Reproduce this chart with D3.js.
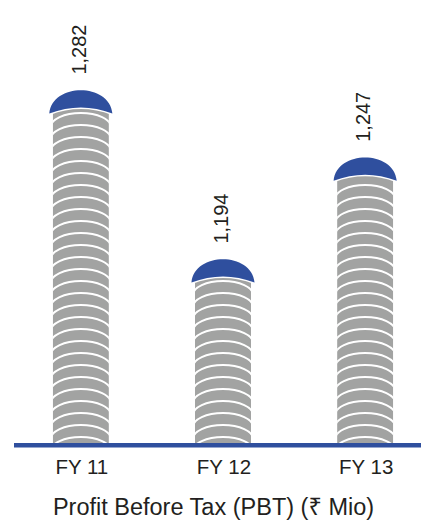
<!DOCTYPE html>
<html>
<head>
<meta charset="utf-8">
<script src="https://cdn.jsdelivr.net/npm/d3@7"></script>
<style>
  html, body { margin: 0; padding: 0; background: #fff; }
  svg { display: block; }
  text { font-family: "Liberation Sans", Arial, "Noto Sans", sans-serif; fill: #231f20; }
</style>
</head>
<body>
<svg id="chart" width="421" height="520"></svg>
<script>
// Profit before tax, ₹ million
const categories = ["FY 11", "FY 12", "FY 13"];
const values = [1282, 1194, 1247];
const valueLabels = ["1,282", "1,194", "1,247"];
const chartTitle = "Profit Before Tax (PBT) (₹ Mio)";

const W = 421, H = 520;
const baseY = 443;
const blue = "#2f4f9e";
const grey = "#a2a3a2";

const svg = d3.select("#chart");

const x = d3.scaleBand()
  .domain(categories)
  .range([18, 428])
  .paddingInner(0.556)
  .paddingOuter(0.22);

// value axis does not start at zero: the columns show differences between years
const y = d3.scaleLinear()
  .domain([1098, 1300])
  .range([baseY, 55]);

const capH = 24;       // height of the blue cap at its sides
const inset = 3.5;     // grey stack is slightly narrower than the cap
const step = 12;       // spacing of the stacked rings
const ringRy = 14;

const defs = svg.append("defs");

const bars = svg.append("g").selectAll("g.bar")
  .data(categories.map((c, i) => ({ c, v: values[i], label: valueLabels[i], i })))
  .join("g")
  .attr("class", "bar");

bars.each(function (d) {
  const g = d3.select(this);
  const x0 = x(d.c), bw = x.bandwidth(), cx = x0 + bw / 2;
  const top = y(d.v);
  const gx0 = x0 + inset, gw = bw - 2 * inset;
  const gTop = top + 16;

  // clip for the ring stack
  const clipId = "clip-" + d.i;
  defs.append("clipPath").attr("id", clipId)
    .append("rect")
    .attr("x", gx0).attr("y", gTop)
    .attr("width", gw).attr("height", baseY - gTop);

  const stack = g.append("g").attr("clip-path", `url(#${clipId})`);
  stack.append("rect")
    .attr("x", gx0).attr("y", gTop)
    .attr("width", gw).attr("height", baseY - gTop)
    .attr("fill", grey);

  // white ring edges, stacked upward from the baseline
  const rx = gw / 2 + 2;
  const apexes = d3.range(1, 60).map(k => baseY - step * k + 6).filter(a => a > gTop + 6);
  stack.selectAll("path.ring")
    .data(apexes)
    .join("path")
    .attr("class", "ring")
    .attr("d", a => `M${cx - rx},${a + ringRy} A${rx},${ringRy} 0 0 1 ${cx + rx},${a + ringRy}`)
    .attr("fill", "none")
    .attr("stroke", "#fff")
    .attr("stroke-width", 2);

  // blue cap: flat dome on top, shallow concave underside
  const x1c = x0 + bw;
  const yb = top + capH;
  const capPath = `M${x0},${yb} C${x0 + 3},${top - 7} ${x1c - 3},${top - 7} ${x1c},${yb} Q${cx},${top + 12} ${x0},${yb} Z`;
  g.append("path")
    .attr("d", capPath)
    .attr("fill", "none")
    .attr("stroke", "#fff")
    .attr("stroke-width", 3);
  g.append("path")
    .attr("d", capPath)
    .attr("fill", blue);

  // value label, rotated
  g.append("text")
    .attr("transform", `translate(${cx + 5},${top - 15}) rotate(-90)`)
    .attr("text-anchor", "start")
    .style("font-size", "20px")
    .text(d.label);
});

// baseline
svg.append("line")
  .attr("x1", 14).attr("x2", W)
  .attr("y1", baseY + 2.2).attr("y2", baseY + 2.2)
  .attr("stroke", blue)
  .attr("stroke-width", 4.5);

// category labels
const xAxis = svg.append("g")
  .attr("transform", `translate(0,${baseY})`)
  .call(d3.axisBottom(x).tickSize(0).tickPadding(0));
xAxis.select(".domain").remove();
xAxis.selectAll("text")
  .attr("y", 31)
  .attr("dy", null)
  .attr("dx", 1)
  .style("font-size", "20.5px")
  .style("font-family", "\"Liberation Sans\", Arial, sans-serif")
  .attr("fill", "#231f20");

// title
svg.append("text")
  .attr("x", 213.5)
  .attr("y", 515)
  .attr("text-anchor", "middle")
  .style("font-size", "23.5px")
  .text(chartTitle);
</script>
</body>
</html>
